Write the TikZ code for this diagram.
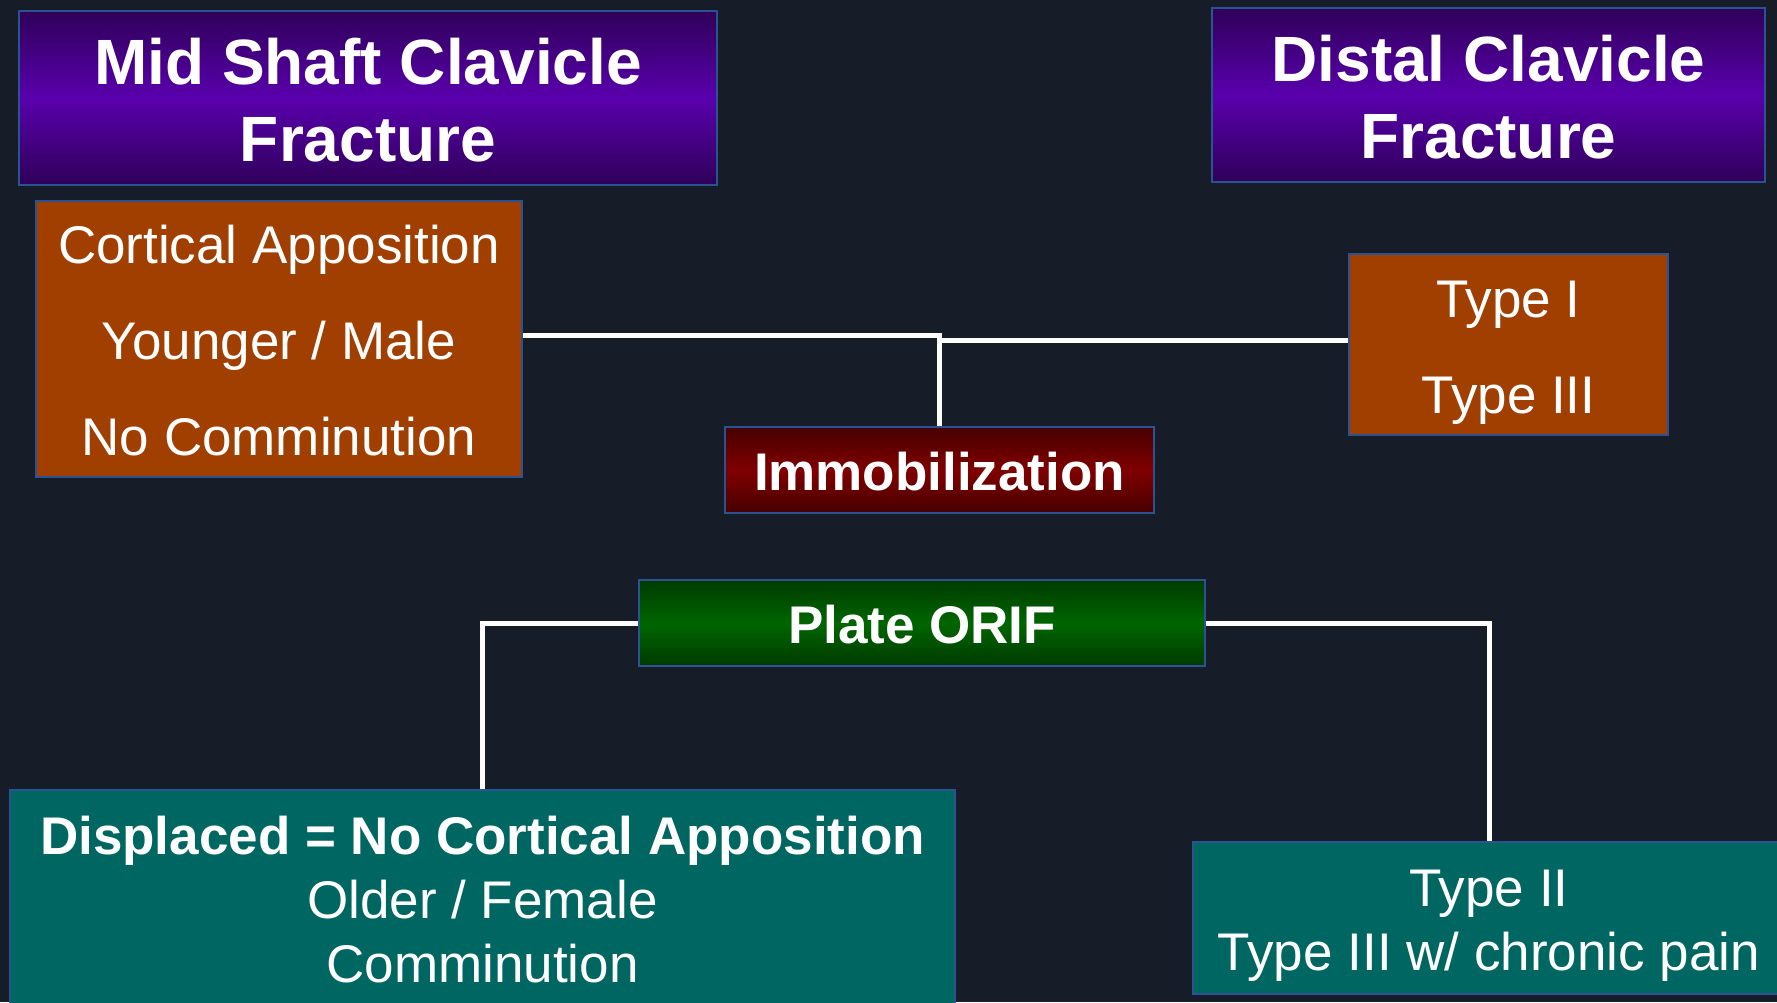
\documentclass[tikz,border=0pt]{standalone}
\usepackage{fontspec}
\setmainfont{Liberation Sans}
\definecolor{bg}{HTML}{161C28}
\definecolor{edge}{HTML}{2A5394}
\definecolor{purpD}{HTML}{2E0058}
\definecolor{purpL}{HTML}{5A00AD}
\definecolor{redD}{HTML}{460000}
\definecolor{redL}{HTML}{800000}
\definecolor{grnD}{HTML}{003A00}
\definecolor{grnL}{HTML}{006600}
\definecolor{orng}{HTML}{A03F00}
\definecolor{teal}{HTML}{006662}
\newcommand\lowr[2]{\raisebox{-#1}[\height][\depth]{#2}}
\tikzset{
  box/.style={draw=edge, line width=2.5pt, inner sep=0pt, align=center, text=white, anchor=center},
  hdr/.style={box, top color=purpD, bottom color=purpD, middle color=purpL,
     font=\fontsize{64}{77}\selectfont\bfseries},
  orbox/.style={box, fill=orng, font=\fontsize{53}{96}\selectfont},
  tlbox/.style={box, fill=teal, font=\fontsize{53}{64}\selectfont},
  redbox/.style={box, top color=redD, bottom color=redD, middle color=redL,
     font=\fontsize{53}{64}\selectfont\bfseries},
  grnbox/.style={box, top color=grnD, bottom color=grnD, middle color=grnL,
     font=\fontsize{53}{64}\selectfont\bfseries},
  conn/.style={draw=white, line width=5pt}
}
\begin{document}
\begin{tikzpicture}[x=1pt,y=-1pt]
\fill[bg] (0,0) rectangle (1777,1002);
\useasboundingbox (0,0) rectangle (1777,1002);
\clip (0,0) rectangle (1777,1002);
% headers
\node[hdr, minimum width=698pt, minimum height=174pt] (hdrL) at (368,98)
  {\lowr{2pt}{Mid Shaft Clavicle}\\\lowr{2pt}{Fracture}};
\node[hdr, minimum width=553pt, minimum height=174pt] (hdrR) at (1488.5,95)
  {\lowr{2pt}{Distal Clavicle}\\\lowr{2pt}{Fracture}};
% orange boxes
\node[orbox, minimum width=486pt, minimum height=276pt] (cort) at (279,339)
  {\lowr{2pt}{Cortical Apposition}\\\lowr{2pt}{Younger / Male}\\\lowr{2pt}{No Comminution}};
\node[orbox, minimum width=319pt, minimum height=181pt] (types) at (1508.5,344.5)
  {\lowr{8pt}{Type I}\\\lowr{8pt}{Type III}};
% treatments
\node[redbox, minimum width=429pt, minimum height=86pt] (immob) at (939.5,470)
  {\lowr{2pt}{Immobilization}};
\node[grnbox, minimum width=566pt, minimum height=86pt] (plate) at (922,623)
  {\lowr{2pt}{Plate ORIF}};
% teal boxes
\node[tlbox, minimum width=945pt, minimum height=220pt] (disp) at (482.5,900)
  {\bfseries Displaced = No Cortical Apposition\\Older / Female\\Comminution};
\node[tlbox, minimum width=592pt, minimum height=152pt] (type2) at (1489,918)
  {\lowr{8pt}{Type II}\\\lowr{8pt}{Type III w/ chronic pain}};
% connectors
\draw[conn] ([yshift=3.5pt]cort.east) -| (immob.north);
\draw[conn] ([yshift=4pt]types.west) -| (immob.north);
\draw[conn] (plate.west) -| (disp.north);
\draw[conn] (plate.east) -| (type2.north);
\end{tikzpicture}
\end{document}
